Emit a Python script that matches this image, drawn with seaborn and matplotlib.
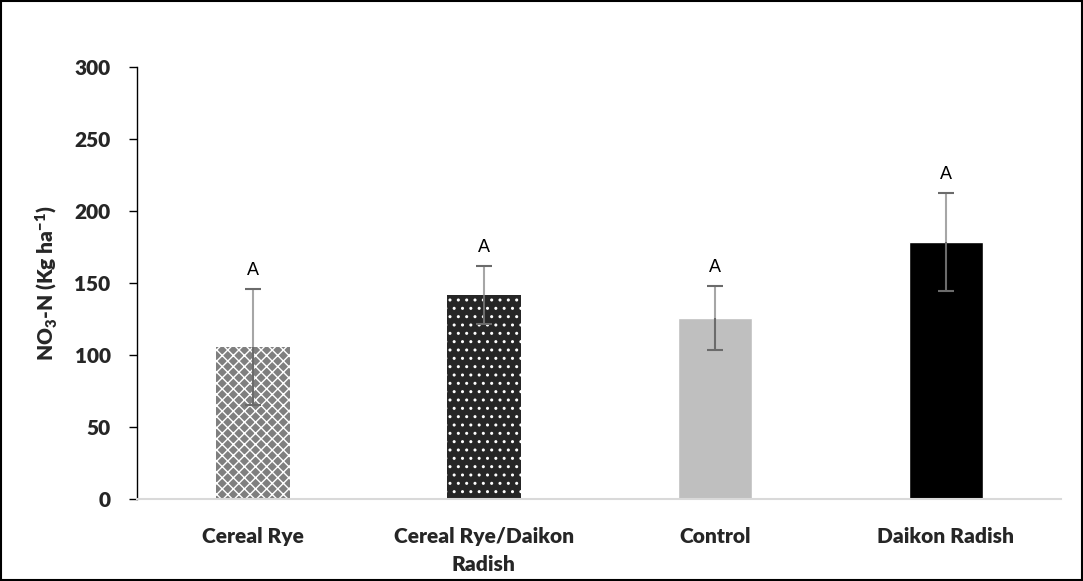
import matplotlib
matplotlib.use("Agg")
import matplotlib.pyplot as plt
import seaborn as sns
import pandas as pd
import numpy as np

categories = ["Cereal Rye", "Cereal Rye/Daikon\nRadish", "Control", "Daikon Radish"]
means = [105.5, 141.7, 125.7, 178.5]
errors = [40.5, 20.0, 22.0, 34.0]
letters = ["A", "A", "A", "A"]
colors = ["#7f7f7f", "#262626", "#bfbfbf", "#000000"]
hatches = ["xxx", "..", "", ""]

sns.set_theme(style="white")
plt.rcParams["font.family"] = ["Lato", "DejaVu Sans"]
plt.rcParams["hatch.linewidth"] = 1.0
plt.rcParams["mathtext.fontset"] = "custom"
plt.rcParams["mathtext.rm"] = "Lato:heavy"
plt.rcParams["mathtext.bf"] = "Lato:heavy"
plt.rcParams["mathtext.default"] = "bf"

df = pd.DataFrame({"cat": categories, "val": means})

fig = plt.figure(figsize=(10.83, 5.81), dpi=100)
ax = fig.add_axes([0.1265, 0.1411, 0.8535, 0.7436])
sns.barplot(data=df, x="cat", y="val", hue="cat", palette=colors, legend=False,
            width=0.32, ax=ax, errorbar=None, saturation=1)

for patch, h in zip(ax.patches, hatches):
    if h:
        patch.set_hatch(h)
        patch.set_edgecolor("white")
        patch.set_linewidth(0)

x = np.arange(len(categories))
ax.errorbar(x, means, yerr=[np.zeros(len(means)), errors], fmt="none",
            ecolor="#a6a6a6", elinewidth=1.5, capsize=0, zorder=5)
ax.errorbar(x, means, yerr=[errors, np.zeros(len(means))], fmt="none",
            ecolor="#6b6b6b", elinewidth=1.5, capsize=0, zorder=5)
ax.errorbar(x, means, yerr=errors, fmt="none", ecolor="#6b6b6b",
            elinewidth=0, capsize=6, capthick=1.5, zorder=6)

for xi, m, e, t in zip(x, means, errors, letters):
    ax.text(xi, m + e + 7, t, ha="center", va="bottom", fontsize=13,
            family=["Liberation Sans"], color="black")

ax.set_ylim(0, 300)
ax.set_yticks(range(0, 301, 50))
ax.set_xlim(-0.5, 3.5)
ax.set_xlabel("")
ax.set_ylabel("NO$_3$-N (Kg ha$^{-1}$)", fontsize=15, fontweight="heavy", labelpad=10)
ax.tick_params(axis="y", left=True, length=6, width=1, color="black",
               labelsize=15, pad=13)
ax.tick_params(axis="x", bottom=False, labelsize=15, pad=14)
for lab in ax.get_xticklabels() + ax.get_yticklabels():
    lab.set_fontweight("heavy")
for lab in ax.get_xticklabels():
    lab.set_linespacing(1.55)

sns.despine(ax=ax, top=True, right=True)
ax.spines["left"].set_color("black")
ax.spines["left"].set_linewidth(1)
ax.spines["bottom"].set_color("#d9d9d9")
ax.spines["bottom"].set_linewidth(1.5)

fig.patches.append(plt.Rectangle((0.001, 0.001), 0.998, 0.997, transform=fig.transFigure,
                                 fill=False, edgecolor="black", linewidth=1.5))

fig.savefig("out.png", dpi=100)
